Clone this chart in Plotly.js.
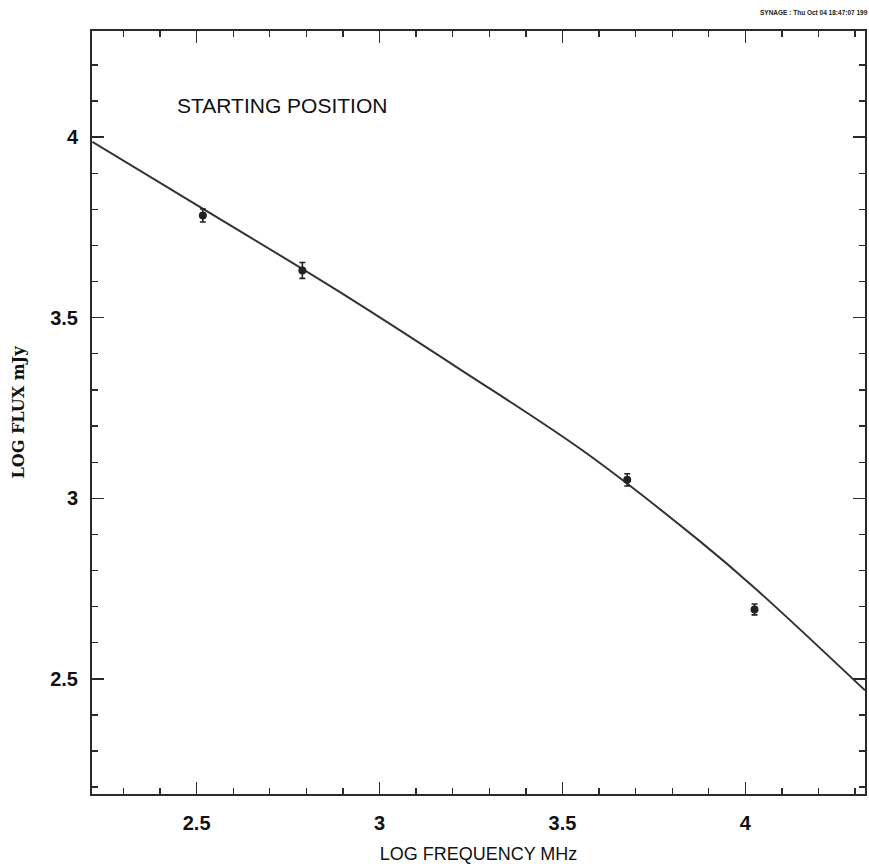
<!DOCTYPE html>
<html>
<head>
<meta charset="utf-8">
<script src="https://cdn.plot.ly/plotly-3.0.1.min.js"></script>
<style>html,body{margin:0;padding:0;background:#fff;}#chart{width:869px;height:868px;}</style>
</head>
<body>
<div id="chart"></div>
<script>
// Measured flux points (log frequency MHz, log flux mJy)
const obsLogFreq = [2.517, 2.789, 3.677, 4.025];
const obsLogFlux = [3.783, 3.631, 3.051, 2.692];
const obsErr     = [0.018, 0.022, 0.017, 0.015];

// Model curve
const fitLogFreq = [2.215, 2.520, 2.882, 3.220, 3.561, 3.872, 4.024, 4.327];
const fitLogFlux = [3.987, 3.800, 3.577, 3.357, 3.128, 2.884, 2.753, 2.468];

const xTickVals = [2.5, 3, 3.5, 4];
const yTickVals = [2.5, 3, 3.5, 4];
const xTickText = ['2.5', '3', '3.5', '4'];
const yTickText = ['2.5', '3', '3.5', '4'];

const axisColor = '#2a2a2a';
const tickFont = {family: 'Liberation Sans, Arial, sans-serif', size: 20, color: '#111', weight: 'bold'};

const traces = [
  {
    x: fitLogFreq, y: fitLogFlux, type: 'scatter', mode: 'lines',
    line: {color: '#333', width: 2, shape: 'spline', smoothing: 1},
    hoverinfo: 'skip', showlegend: false
  },
  {
    x: obsLogFreq, y: obsLogFlux, type: 'scatter', mode: 'markers',
    marker: {color: '#222', size: 8, symbol: 'circle'},
    error_y: {type: 'data', array: obsErr, visible: true, color: '#222', thickness: 1.6, width: 3},
    showlegend: false
  }
];

const commonAxis = {
  showline: true, linecolor: axisColor, linewidth: 2, mirror: 'ticks',
  ticks: 'inside', ticklen: 12, tickwidth: 1.5, tickcolor: axisColor,
  showgrid: false, zeroline: false, tickfont: tickFont,
  tickmode: 'array',
  minor: {ticks: 'inside', ticklen: 6, tickwidth: 1.3, tickcolor: axisColor, dtick: 0.1, showgrid: false}
};

const layout = {
  width: 869, height: 868,
  paper_bgcolor: '#fff', plot_bgcolor: '#fff',
  margin: {l: 92, r: 4, t: 31, b: 74},
  showlegend: false,
  xaxis: Object.assign({}, commonAxis, {
    range: [2.214, 4.327],
    tickvals: xTickVals, ticktext: xTickText,
    ticklabelstandoff: 10,
    title: {text: 'LOG FREQUENCY MHz', font: {family: 'Liberation Sans, Arial, sans-serif', size: 18, color: '#111'}, standoff: 14}
  }),
  yaxis: Object.assign({}, commonAxis, {
    range: [2.181, 4.294],
    tickvals: yTickVals, ticktext: yTickText,
    ticklabelstandoff: 8,
    title: {text: 'LOG FLUX mJy', font: {family: 'DejaVu Serif, Liberation Serif, serif', size: 16, color: '#111', weight: 'bold'}, standoff: 22}
  }),
  annotations: [
    {
      text: 'STARTING POSITION', xref: 'paper', yref: 'paper',
      x: 0.108, y: 0.902, xanchor: 'left', yanchor: 'middle', showarrow: false,
      font: {family: 'Liberation Sans, Arial, sans-serif', size: 21, color: '#111'}
    },
    {
      text: '<b>SYNAGE : Thu Oct 04 18:47:07 199</b>', xref: 'paper', yref: 'paper',
      x: 1.006, y: 1.024, xanchor: 'right', yanchor: 'middle', showarrow: false,
      font: {family: 'Liberation Sans, Arial, sans-serif', size: 6.5, color: '#222'}
    }
  ]
};

Plotly.newPlot('chart', traces, layout, {displayModeBar: false, staticPlot: true});
</script>
</body>
</html>
